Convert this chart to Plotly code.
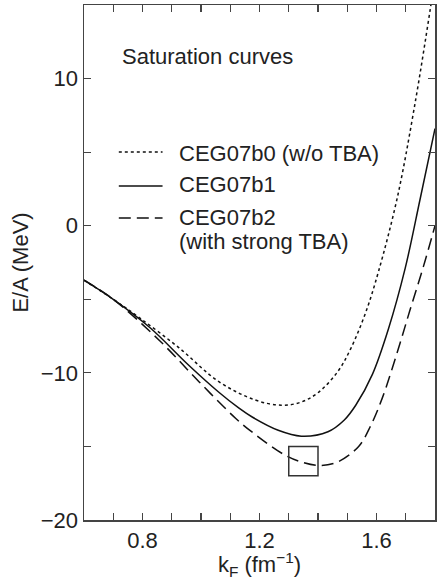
import plotly.graph_objects as go

# --- data ---
k_b0 = [0.60, 0.70, 0.79, 0.925, 1.061, 1.186, 1.275, 1.34, 1.40, 1.468, 1.512, 1.563, 1.607, 1.671, 1.729, 1.786, 1.82]
E_b0 = [-3.7, -5.0, -6.26, -8.3, -10.6, -11.85, -12.2, -12.0, -11.35, -9.9, -8.35, -5.9, -3.1, 1.9, 8.0, 15.0, 19.6]

k_b1 = [0.60, 0.70, 0.824, 0.959, 1.06, 1.13, 1.175, 1.264, 1.343, 1.434, 1.49, 1.529, 1.586, 1.641, 1.698, 1.749, 1.80]
E_b1 = [-3.7, -5.0, -6.9, -9.5, -11.3, -12.4, -13.0, -13.9, -14.3, -14.0, -13.2, -12.2, -10.1, -7.0, -2.9, 1.8, 6.6]

k_b2 = [0.60, 0.70, 0.858, 0.993, 1.119, 1.173, 1.288, 1.35, 1.41, 1.468, 1.539, 1.58, 1.62, 1.671, 1.715, 1.76, 1.80]
E_b2 = [-3.7, -5.0, -7.8, -10.6, -13.1, -14.0, -15.6, -16.1, -16.3, -16.05, -15.0, -13.6, -11.7, -8.6, -5.7, -2.8, 0.0]

series_names = ["CEG07b0 (w/o TBA)", "CEG07b1", "CEG07b2"]
legend_extra = "(with strong TBA)"
title_text = "Saturation curves"

box_k = [1.3, 1.4]
box_E = [-17.0, -15.0]

x_ticks = [0.8, 1.2, 1.6]
x_minor = [0.7, 0.9, 1.0, 1.1, 1.3, 1.4, 1.5, 1.7]
y_ticks = [-20, -10, 0, 10]
y_minor = [-15, -5, 5]

FONT = "Liberation Sans, Arial, Helvetica, sans-serif"
AX = "#444444"
INK = "#111111"

fig = go.Figure()
styles = [
    dict(dash="dot", width=1.5),
    dict(dash="solid", width=1.5),
    dict(dash="12px,6px", width=1.5),
]
for (kk, ee), name, st in zip([(k_b0, E_b0), (k_b1, E_b1), (k_b2, E_b2)], series_names, styles):
    fig.add_trace(go.Scatter(
        x=kk, y=ee, mode="lines", name=name, showlegend=False, hoverinfo="skip",
        line=dict(color=INK, width=st["width"], dash=st["dash"], shape="spline", smoothing=1.0),
        cliponaxis=True,
    ))

# small box near saturation point
fig.add_shape(type="rect", xref="x", yref="y",
              x0=box_k[0], x1=box_k[1], y0=box_E[0], y1=box_E[1],
              line=dict(color="#333333", width=1.5))

# manual legend (paper coords)
L, R, T, B = 84, 437, 5, 520
def px(xp):
    return (xp - L) / (R - L)
def py(yp):
    return (B - yp) / (B - T)

fig.add_annotation(x=px(120), y=py(56), xref="paper", yref="paper", text=title_text,
                   showarrow=False, xanchor="left", yanchor="middle",
                   font=dict(family=FONT, size=22, color="#222"))
key_y = [152, 186, 218]
text_y = [153, 185, 218]
for st, ky, ty, name in zip(styles, key_y, text_y, series_names):
    fig.add_shape(type="line", xref="paper", yref="paper",
                  x0=px(119), x1=px(163), y0=py(ky), y1=py(ky),
                  line=dict(color=INK, width=st["width"], dash=st["dash"]))
    fig.add_annotation(x=px(178), y=py(ty), xref="paper", yref="paper", text=name,
                       showarrow=False, xanchor="left", yanchor="middle",
                       font=dict(family=FONT, size=22, color="#222"))
fig.add_annotation(x=px(178), y=py(241), xref="paper", yref="paper", text=legend_extra,
                   showarrow=False, xanchor="left", yanchor="middle",
                   font=dict(family=FONT, size=22, color="#222"))

axis_common = dict(
    showline=True, linecolor=AX, linewidth=1.5, mirror="allticks",
    ticks="inside", ticklen=7, tickwidth=1.2, tickcolor=AX,
    showgrid=False, zeroline=False,
    tickfont=dict(family=FONT, size=22, color="#222"),
)
fig.update_xaxes(range=[0.6, 1.8], tickvals=x_ticks, ticktext=[f"{v:.1f}" for v in x_ticks],
                 minor=dict(tickvals=x_minor, ticks="inside", ticklen=7, tickwidth=1.2, tickcolor=AX, showgrid=False),
                 title=dict(text="k<sub>F</sub> (fm<sup>−1</sup>)", font=dict(family=FONT, size=22, color="#222"), standoff=4),
                 **axis_common)
fig.update_yaxes(range=[-20, 15], tickvals=y_ticks, ticktext=[("−" + str(abs(v))) if v < 0 else str(v) for v in y_ticks],
                 minor=dict(tickvals=y_minor, ticks="inside", ticklen=7, tickwidth=1.2, tickcolor=AX, showgrid=False),
                 title=dict(text="E/A (MeV)", font=dict(family=FONT, size=22, color="#222"), standoff=6),
                 **axis_common)

fig.update_layout(
    width=438, height=580,
    margin=dict(l=84, r=1, t=5, b=60, pad=0),
    plot_bgcolor="white", paper_bgcolor="white",
    showlegend=False, hovermode=False,
)

fig.write_html("out.html", config={"displayModeBar": False, "staticPlot": True},
               post_script="document.body.style.margin='0px';document.body.style.padding='0px';")
